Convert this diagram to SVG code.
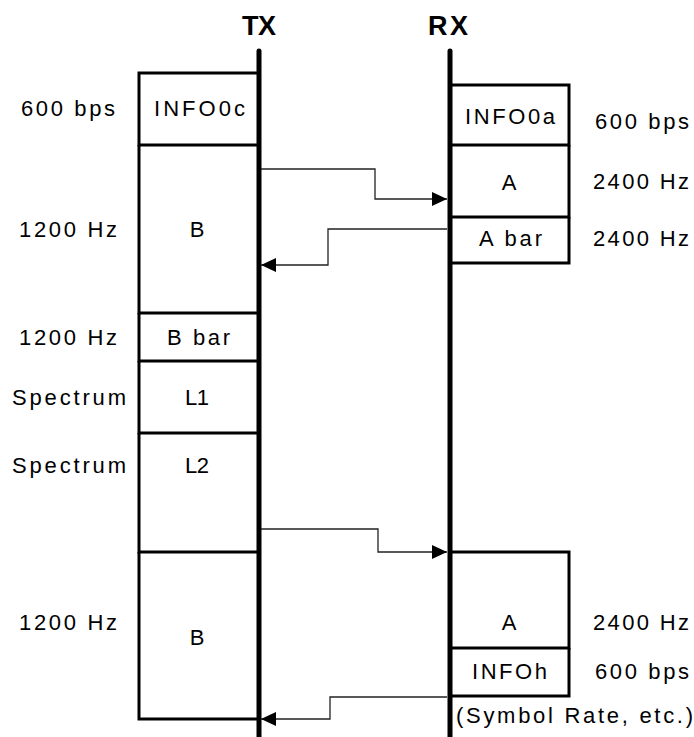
<svg xmlns="http://www.w3.org/2000/svg" width="694" height="737" viewBox="0 0 694 737">
<defs>
<style>
.t{font-family:"Liberation Sans",Arial,Helvetica,sans-serif;font-size:22px;fill:#000}
.h{font-family:"Liberation Sans",Arial,Helvetica,sans-serif;font-size:27px;font-weight:bold;fill:#000}
.life{stroke:#000;stroke-width:5;fill:none;stroke-linecap:round}
.box{stroke:#000;stroke-width:3;fill:none}
.conn{stroke:#222;stroke-width:1.3;fill:none}
</style>
<marker id="arr" markerWidth="15" markerHeight="14" refX="15" refY="7" orient="auto" markerUnits="userSpaceOnUse">
<path d="M0,0 L15,7 L0,14 Z" fill="#000"/>
</marker>
</defs>
<rect width="694" height="737" fill="#fff"/>

<g id="tx-lifeline">
<text class="h" x="242" y="35" textLength="34" lengthAdjust="spacing">TX</text>
<line class="life" x1="259" y1="51" x2="259" y2="740"/>
</g>
<g id="rx-lifeline">
<text class="h" x="428" y="35" textLength="40" lengthAdjust="spacing">RX</text>
<line class="life" x1="450" y1="51" x2="450" y2="740"/>
</g>

<g id="tx-info0c">
<path class="box" d="M257,73 H139 V145 H257"/>
<text class="t" x="21" y="116" textLength="94" lengthAdjust="spacing">600 bps</text>
<text class="t" x="154" y="116" textLength="91" lengthAdjust="spacing">INFO0c</text>
</g>
<g id="tx-b1">
<path class="box" d="M139,145 V313 H257"/>
<text class="t" x="19" y="237" textLength="98" lengthAdjust="spacing">1200 Hz</text>
<text class="t" x="197" y="237" text-anchor="middle">B</text>
</g>
<g id="tx-bbar">
<path class="box" d="M139,313 V361 H257"/>
<text class="t" x="167" y="345" textLength="63" lengthAdjust="spacing">B bar</text>
<text class="t" x="19" y="345" textLength="98" lengthAdjust="spacing">1200 Hz</text>
</g>
<g id="tx-l1">
<path class="box" d="M139,361 V433 H257"/>
<text class="t" x="12" y="405" textLength="114" lengthAdjust="spacing">Spectrum</text>
<text class="t" x="185" y="405" textLength="24" lengthAdjust="spacing">L1</text>
</g>
<g id="tx-l2">
<path class="box" d="M139,433 V552 H257"/>
<text class="t" x="12" y="473" textLength="114" lengthAdjust="spacing">Spectrum</text>
<text class="t" x="185" y="473" textLength="24" lengthAdjust="spacing">L2</text>
</g>
<g id="tx-b2">
<path class="box" d="M139,552 V719 H257"/>
<text class="t" x="19" y="630" textLength="98" lengthAdjust="spacing">1200 Hz</text>
<text class="t" x="197" y="645" text-anchor="middle">B</text>
</g>

<g id="rx-info0a">
<path class="box" d="M452,85 H569 V145 H452"/>
<text class="t" x="465" y="124" textLength="90" lengthAdjust="spacing">INFO0a</text>
<text class="t" x="595" y="129" textLength="94" lengthAdjust="spacing">600 bps</text>
</g>
<g id="rx-a1">
<path class="box" d="M569,145 V217 H452"/>
<text class="t" x="509" y="190" text-anchor="middle">A</text>
<text class="t" x="593" y="189" textLength="96" lengthAdjust="spacing">2400 Hz</text>
</g>
<g id="rx-abar">
<path class="box" d="M569,217 V263 H452"/>
<text class="t" x="479" y="246" textLength="63" lengthAdjust="spacing">A bar</text>
<text class="t" x="593" y="246" textLength="96" lengthAdjust="spacing">2400 Hz</text>
</g>
<g id="rx-a2">
<path class="box" d="M452,552 H569 V648 H452"/>
<text class="t" x="509" y="630" text-anchor="middle">A</text>
<text class="t" x="593" y="630" textLength="96" lengthAdjust="spacing">2400 Hz</text>
</g>
<g id="rx-infoh">
<path class="box" d="M569,648 V696 H452"/>
<text class="t" x="472" y="679" textLength="75" lengthAdjust="spacing">INFOh</text>
<text class="t" x="595" y="679" textLength="94" lengthAdjust="spacing">600 bps</text>
<text class="t" x="456" y="723" textLength="237" lengthAdjust="spacing">(Symbol Rate, etc.)</text>
</g>

<g id="connectors">
<path class="conn" d="M261,169 H375 V199 H447" marker-end="url(#arr)"/>
<path class="conn" d="M447,229 H328 V265 H261" marker-end="url(#arr)"/>
<path class="conn" d="M261,529 H378 V552 H447" marker-end="url(#arr)"/>
<path class="conn" d="M447,697 H330 V719 H261" marker-end="url(#arr)"/>
</g>
</svg>
